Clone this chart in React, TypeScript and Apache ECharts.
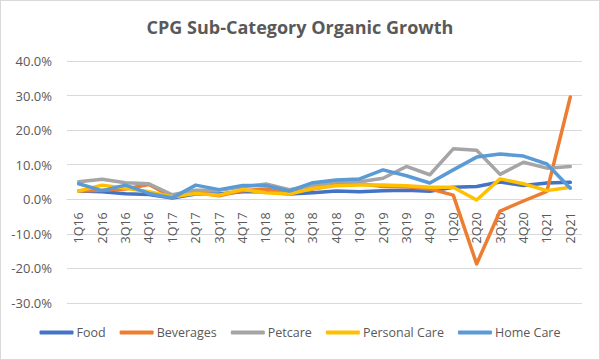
import React, { useEffect, useRef } from "react";
import * as echarts from "echarts";

const categories = [
  "1Q16", "2Q16", "3Q16", "4Q16", "1Q17", "2Q17", "3Q17", "4Q17",
  "1Q18", "2Q18", "3Q18", "4Q18", "1Q19", "2Q19", "3Q19", "4Q19",
  "1Q20", "2Q20", "3Q20", "4Q20", "1Q21", "2Q21",
];

const food = [2.4, 2.2, 1.6, 1.4, 0.4, 1.5, 1.5, 2.2, 2.2, 1.5, 1.9, 2.4, 2.2, 2.5, 2.6, 2.3, 3.5, 3.7, 5.0, 4.0, 4.7, 4.9];
const beverages = [2.4, 2.6, 3.0, 4.3, 0.6, 2.0, 1.0, 2.5, 3.0, 2.0, 3.0, 4.2, 4.5, 3.7, 3.6, 3.0, 1.2, -18.7, -3.4, -0.5, 2.3, 29.6];
const petcare = [5.1, 5.8, 4.8, 4.5, 1.3, 2.6, 2.6, 3.6, 4.4, 2.8, 4.0, 5.1, 5.1, 6.1, 9.5, 7.1, 14.6, 14.2, 7.2, 10.7, 9.0, 9.5];
const personalCare = [2.4, 4.1, 3.2, 2.2, 0.7, 1.7, 1.2, 2.8, 1.9, 1.5, 3.1, 3.9, 4.1, 4.1, 3.9, 3.5, 3.5, -0.2, 5.9, 4.5, 2.5, 3.5];
const homeCare = [4.5, 2.5, 4.1, 1.7, 0.4, 4.1, 2.8, 4.0, 4.0, 2.4, 4.8, 5.6, 5.9, 8.5, 6.8, 4.7, 8.5, 12.2, 13.1, 12.5, 10.2, 3.2];

const seriesNames = ["Food", "Beverages", "Petcare", "Personal Care", "Home Care"];
const seriesColors = ["#4472C4", "#ED7D31", "#A5A5A5", "#FFC000", "#5B9BD5"];
const seriesData = [food, beverages, petcare, personalCare, homeCare];

const FONT = "'Open Sans', sans-serif";
const Y_MIN = -30;
const Y_MAX = 40;
const GRID_TOP = 61;
const GRID_BOTTOM = 57;
const CHART_H = 360;

export default function App() {
  const ref = useRef<HTMLDivElement>(null);
  useEffect(() => {
    if (!ref.current) return;
    const chart = echarts.init(ref.current, undefined, { renderer: "svg" });
    const gridH = CHART_H - GRID_TOP - GRID_BOTTOM;
    // move the category axis up to the zero line of the value axis
    const zeroOffset = -(gridH * (0 - Y_MIN)) / (Y_MAX - Y_MIN);
    chart.setOption({
      animation: false,
      backgroundColor: "#ffffff",
      title: {
        text: "CPG Sub-Category Organic Growth",
        left: "center",
        top: 13,
        textStyle: { fontFamily: FONT, fontSize: 18, fontWeight: "bold", color: "#595959" },
      },
      legend: {
        data: seriesNames,
        bottom: 16,
        left: "center",
        icon: "roundRect",
        itemWidth: 34,
        itemHeight: 4,
        itemGap: 14,
        textStyle: { fontFamily: FONT, fontSize: 12.5, color: "#595959", padding: [0, 0, 0, -2] },
      },
      grid: { left: 67, right: 18, top: GRID_TOP, bottom: GRID_BOTTOM },
      xAxis: {
        type: "category",
        data: categories,
        boundaryGap: true,
        position: "bottom",
        offset: zeroOffset,
        axisLine: { onZero: false, lineStyle: { color: "#D9D9D9", width: 1 } },
        axisTick: { show: false },
        axisLabel: {
          interval: 0,
          rotate: 90,
          margin: 13,
          fontFamily: FONT,
          fontSize: 12.5,
          color: "#595959",
        },
      },
      yAxis: {
        type: "value",
        min: Y_MIN,
        max: Y_MAX,
        interval: 10,
        axisLine: { show: false },
        axisTick: { show: false },
        splitLine: { lineStyle: { color: "#D9D9D9", width: 1 } },
        axisLabel: {
          margin: 15,
          fontFamily: FONT,
          fontSize: 13,
          color: "#595959",
          formatter: (v: number) => v.toFixed(1) + "%",
        },
      },
      series: seriesNames.map((name, i) => ({
        name,
        type: "line",
        data: seriesData[i],
        showSymbol: false,
        symbol: "none",
        itemStyle: { color: seriesColors[i] },
        lineStyle: { color: seriesColors[i], width: 3.5, cap: "round", join: "round" },
      })),
    });
    return () => chart.dispose();
  }, []);
  return (
    <div style={{ position: "fixed", left: 0, top: 0, width: 600, height: 360 }}>
      <div ref={ref} style={{ width: 600, height: 360 }} />
      <div
        style={{
          position: "absolute",
          left: 0,
          top: 0,
          width: 600,
          height: 360,
          boxSizing: "border-box",
          border: "1px solid #D9D9D9",
          pointerEvents: "none",
        }}
      />
    </div>
  );
}
